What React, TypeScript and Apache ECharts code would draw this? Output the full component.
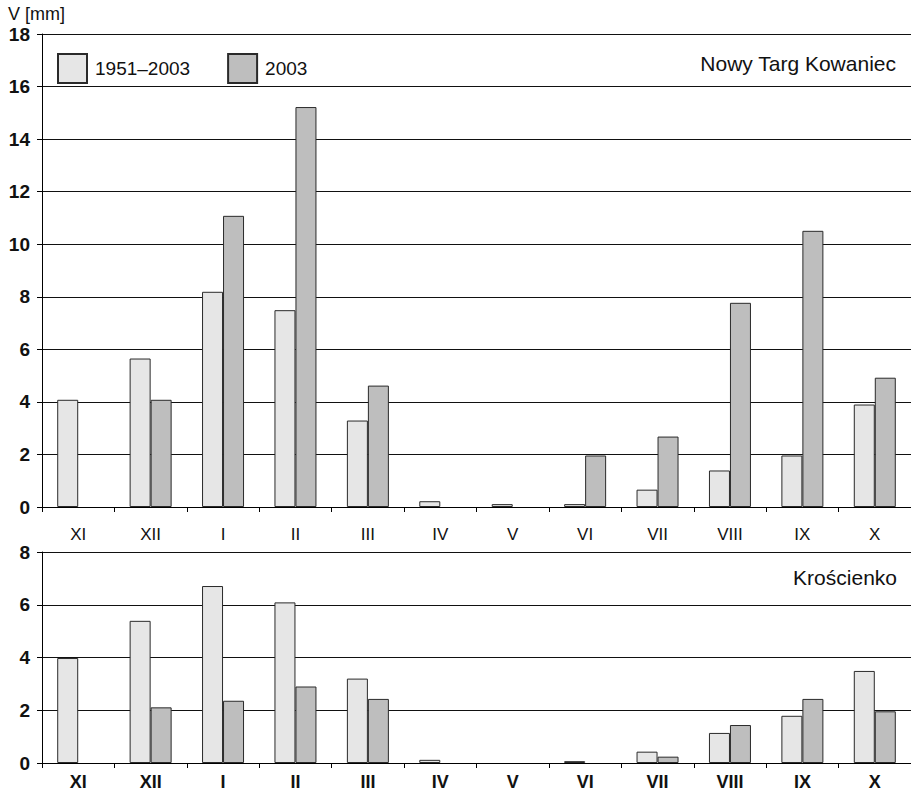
import React, { useEffect, useRef } from "react";
import * as echarts from "echarts";

const months = ["XI", "XII", "I", "II", "III", "IV", "V", "VI", "VII", "VIII", "IX", "X"];
const seriesNames = ["1951–2003", "2003"];

// Nowy Targ Kowaniec
const nowyTargLong = [4.08, 5.65, 8.19, 7.49, 3.29, 0.22, 0.11, 0.11, 0.66, 1.39, 1.96, 3.9];
const nowyTarg2003 = [null, 4.08, 11.08, 15.22, 4.62, null, null, 1.96, 2.68, 7.77, 10.51, 4.92];

// Krościenko
const kroscienkoLong = [3.98, 5.39, 6.71, 6.09, 3.2, 0.12, null, 0.07, 0.43, 1.14, 1.79, 3.49];
const kroscienko2003 = [null, 2.11, 2.36, 2.9, 2.43, null, null, null, 0.24, 1.44, 2.43, 1.96];

const topTicks = { min: 0, max: 18, interval: 2 };
const bottomTicks = { min: 0, max: 8, interval: 2 };

const FONT = "Liberation Sans, Arial, sans-serif";
const LIGHT = "#e6e6e6";
const DARK = "#bebebe";
const BORDER = "#2a2a2a";
const GRID = "#111111";

export default function App() {
  const ref = useRef<HTMLDivElement>(null);

  useEffect(() => {
    document.body.style.margin = "0";
    if (!ref.current) return;
    const chart = echarts.init(ref.current, null, { renderer: "svg" });

    const yAxisBase = (t: { min: number; max: number; interval: number }, gridIndex: number) => ({
      type: "value",
      gridIndex,
      min: t.min,
      max: t.max,
      interval: t.interval,
      axisLine: { show: true, lineStyle: { color: "#000", width: 1 } },
      axisTick: { show: true, length: 5, lineStyle: { color: "#000" } },
      splitLine: { show: true, lineStyle: { color: GRID, width: 1 } },
      axisLabel: {
        margin: 12,
        fontFamily: FONT,
        fontSize: 19,
        fontWeight: "bold",
        color: "#111",
      },
    });

    const xAxisBase = (gridIndex: number, bold: boolean, margin: number, size: number) => ({
      type: "category",
      gridIndex,
      data: months,
      axisLine: { show: true, lineStyle: { color: "#000", width: 1 } },
      axisTick: { show: true, length: 5, alignWithLabel: false, lineStyle: { color: "#000" } },
      axisLabel: {
        interval: 0,
        margin,
        fontFamily: FONT,
        fontSize: size,
        fontWeight: bold ? "bold" : "normal",
        color: "#111",
      },
    });

    const bar = (name: string, data: (number | null)[], color: string, axisIndex: number) => ({
      name,
      type: "bar",
      xAxisIndex: axisIndex,
      yAxisIndex: axisIndex,
      data,
      barWidth: 21,
      barGap: "0%",
      itemStyle: { color, borderColor: BORDER, borderWidth: 1 },
    });

    chart.setOption({
      animation: false,
      backgroundColor: "#ffffff",
      grid: [
        { left: 42, top: 34, width: 873, height: 473 },
        { left: 42, top: 552, width: 873, height: 211 },
      ],
      xAxis: [xAxisBase(0, false, 19, 17), xAxisBase(1, true, 10, 18)],
      yAxis: [yAxisBase(topTicks, 0), yAxisBase(bottomTicks, 1)],
      legend: {
        data: seriesNames,
        left: 52,
        top: 48,
        icon: "rect",
        itemWidth: 29,
        itemHeight: 29,
        itemGap: 37,
        textStyle: { fontFamily: FONT, fontSize: 19, color: "#111", padding: [0, 0, 0, 3] },
      },
      graphic: [
        {
          type: "text",
          x: 8,
          y: 14,
          style: { text: "V [mm]", font: `18px ${FONT}`, fill: "#111", verticalAlign: "middle", align: "left" },
        },
        {
          type: "text",
          x: 896,
          y: 63,
          style: { text: "Nowy Targ Kowaniec", font: `21px ${FONT}`, fill: "#111", verticalAlign: "middle", align: "right" },
        },
        {
          type: "text",
          x: 897,
          y: 577,
          style: { text: "Krościenko", font: `21px ${FONT}`, fill: "#111", verticalAlign: "middle", align: "right" },
        },
      ],
      series: [
        bar(seriesNames[0], nowyTargLong, LIGHT, 0),
        bar(seriesNames[1], nowyTarg2003, DARK, 0),
        bar(seriesNames[0], kroscienkoLong, LIGHT, 1),
        bar(seriesNames[1], kroscienko2003, DARK, 1),
      ],
    });

    return () => chart.dispose();
  }, []);

  return <div ref={ref} style={{ width: 911, height: 796 }} />;
}
